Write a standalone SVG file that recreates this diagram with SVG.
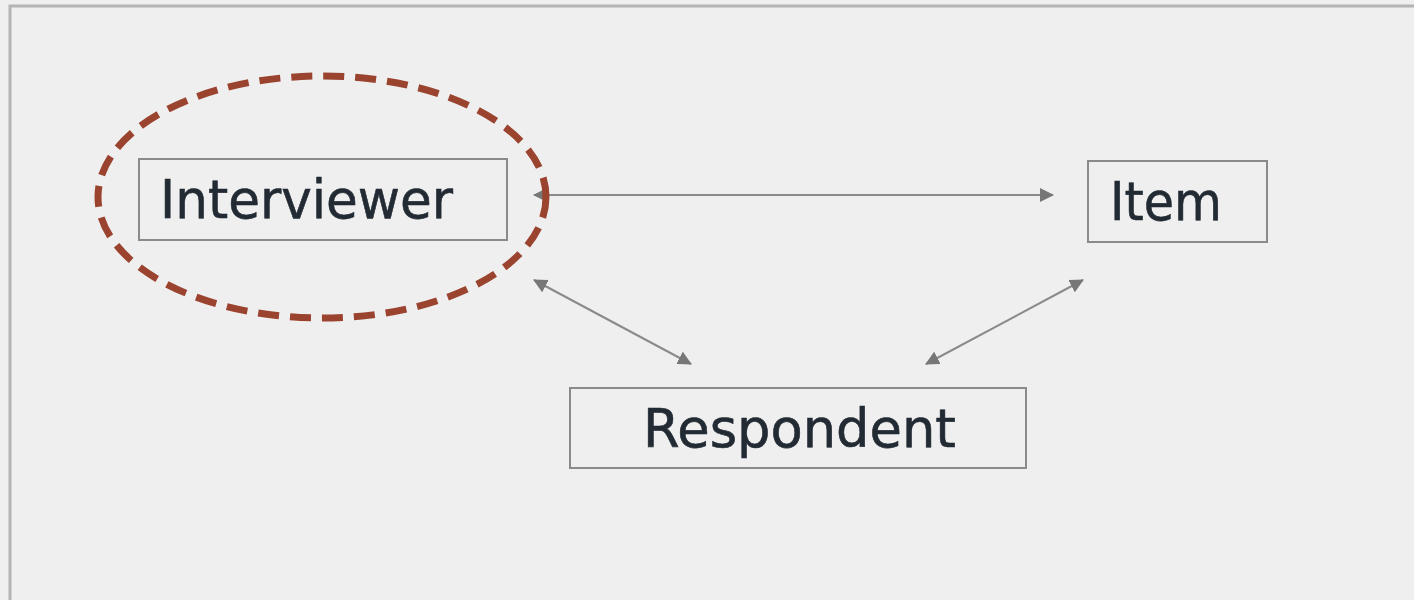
<svg xmlns="http://www.w3.org/2000/svg" width="1414" height="600" viewBox="0 0 1414 600">
  <style>
    .frame { fill: #efefef; stroke: #b4b4b4; stroke-width: 3; }
    .box { fill: #efefef; stroke: #8a8a8a; stroke-width: 2; }
    .label { font-family: "DejaVu Sans", "Open Sans", sans-serif; font-size: 54px; fill: #222a33; stroke: #222a33; stroke-width: 0.6; }
    .link { stroke: #8a8a8a; stroke-width: 2; fill: none; marker-end: url(#head); marker-start: url(#head); }
    .focus { fill: none; stroke: #9a432f; stroke-width: 7; stroke-dasharray: 21 11; }
  </style>
  <defs>
    <marker id="head" viewBox="0 0 14 14" refX="13" refY="7" markerWidth="14" markerHeight="14" markerUnits="userSpaceOnUse" orient="auto-start-reverse">
      <path d="M0,0 L14,7 L0,14 z" fill="#777"/>
    </marker>
  </defs>

  <rect width="1414" height="600" fill="#efefef"/>
  <rect class="frame" x="10" y="6" width="1420" height="610"/>

  <g id="connectors">
    <line class="link" x1="534" y1="195" x2="1053" y2="195"/>
    <line class="link" x1="534" y1="280" x2="691" y2="364"/>
    <line class="link" x1="1083" y1="280" x2="926" y2="364"/>
  </g>

  <g id="interviewer">
    <rect class="box" x="139" y="159" width="368" height="81"/>
    <text class="label" x="160" y="218" textLength="293" lengthAdjust="spacingAndGlyphs">Interviewer</text>
  </g>

  <g id="item">
    <rect class="box" x="1088" y="161" width="179" height="81"/>
    <text class="label" x="1110" y="220" textLength="112" lengthAdjust="spacingAndGlyphs">Item</text>
  </g>

  <g id="respondent">
    <rect class="box" x="570" y="388" width="456" height="80"/>
    <text class="label" x="643" y="447" textLength="313" lengthAdjust="spacingAndGlyphs">Respondent</text>
  </g>

  <g id="highlight">
    <ellipse class="focus" cx="322" cy="197" rx="224" ry="121"/>
  </g>
</svg>
